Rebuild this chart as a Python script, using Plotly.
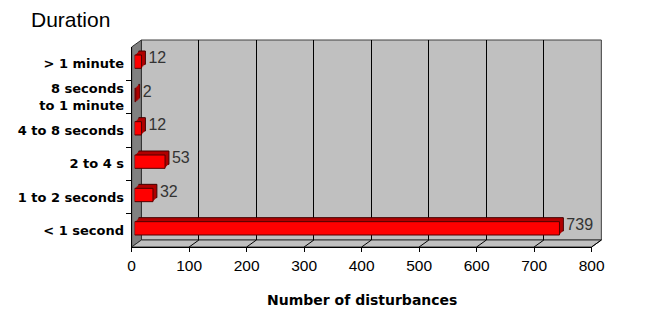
import plotly.graph_objects as go

# ---- data ----
categories = ["> 1 minute", "8 seconds<br>to 1 minute", "4 to 8 seconds",
              "2 to 4 s", "1 to 2 seconds", "< 1 second"]
tick_text = ["&gt; 1 minute", "8 seconds<br>to 1 minute", "4 to 8 seconds",
             "2 to 4 s", "1 to 2 seconds", "&lt; 1 second"]
counts = [12, 2, 12, 53, 32, 739]
x_ticks = [0, 100, 200, 300, 400, 500, 600, 700, 800]
title_text = "Duration"
x_title = "Number of disturbances"

# ---- geometry (pixels) ----
W, H = 666, 326
FX0, FX1 = 131, 603      # front plane x extent
FYT, FYB = 47, 247       # front plane y extent (top, bottom)
DX, DY = 10, -7          # depth offset of back wall
XMAX = 800

def px(x):
    return x / W

def py(y):
    return 1 - y / H

cat_order = list(reversed(categories))  # bottom to top

fig = go.Figure()

def add_axes(n, ox, oy, **xkw):
    xa = dict(domain=[px(FX0 + ox), px(FX1 + ox)], range=[0, XMAX],
              anchor=f"y{n}", showgrid=False, zeroline=False,
              showticklabels=False, ticks="", showline=False, fixedrange=True)
    xa.update(xkw)
    ya = dict(domain=[py(FYB + oy), py(FYT + oy)], type="category",
              categoryorder="array", categoryarray=cat_order,
              range=[-0.5, len(categories) - 0.5], anchor=f"x{n}",
              showgrid=False, zeroline=False, showticklabels=False,
              ticks="", showline=False, fixedrange=True)
    fig.update_layout(**{f"xaxis{n}": xa, f"yaxis{n}": ya})

# main (front) axes: ticks and category labels
fig.update_layout(
    xaxis=dict(domain=[px(FX0), px(FX1)], range=[0, XMAX], anchor="y",
               tickvals=x_ticks, ticktext=[str(v) for v in x_ticks],
               showgrid=False, zeroline=False, showline=True,
               linecolor="#000", linewidth=1, ticks="outside", ticklen=4,
               tickcolor="#000",
               tickfont=dict(family="Liberation Sans, Arial", size=15.5, color="#000"),
               fixedrange=True),
    yaxis=dict(domain=[py(FYB), py(FYT)], type="category",
               categoryorder="array", categoryarray=cat_order,
               tickvals=categories, ticktext=tick_text,
               range=[-0.5, len(categories) - 0.5], anchor="x",
               showgrid=False, zeroline=False, showline=True,
               linecolor="#000", linewidth=1, ticks="outside", ticklen=5,
               tickcolor="#000", tickson="boundaries", ticklabelstandoff=4,
               tickfont=dict(family="DejaVu Sans", size=13, color="#000",
                             weight="bold"),
               fixedrange=True),
)
fig.add_trace(go.Scatter(x=counts, y=categories, mode="markers",
                         marker=dict(opacity=0), hoverinfo="skip",
                         showlegend=False, xaxis="x", yaxis="y"))

# back wall grid axes
add_axes(2, DX, DY, showgrid=True, gridcolor="#000", gridwidth=1, dtick=100)
fig.add_trace(go.Scatter(x=counts, y=categories, mode="markers",
                         marker=dict(opacity=0), hoverinfo="skip",
                         showlegend=False, xaxis="x2", yaxis="y2"))

# bar extrusion copies (back to front)
offsets = [(7, -6), (6, -5), (5, -4), (4, -3)]
n = 3
for i, (ox, oy) in enumerate(offsets):
    add_axes(n, ox, oy)
    last = i == 0
    fig.add_trace(go.Bar(
        x=counts, y=categories, orientation="h", width=0.4,
        marker=dict(color="#b00000",
                    line=dict(color="#400000", width=1 if last else 0)),
        text=[str(v) for v in counts] if last else None,
        textposition="outside" if last else "none",
        constraintext="none",
        textfont=dict(family="Liberation Sans, Arial", size=16, color="#333"),
        cliponaxis=False, hoverinfo="skip", showlegend=False,
        xaxis=f"x{n}", yaxis=f"y{n}"))
    n += 1

# front face of bars
add_axes(n, 3, -2)
fig.add_trace(go.Bar(
    x=counts, y=categories, orientation="h", width=0.4,
    marker=dict(color="#ff0000", line=dict(color="#500000", width=1)),
    hoverinfo="skip", showlegend=False, cliponaxis=False,
    xaxis=f"x{n}", yaxis=f"y{n}"))

# ---- 3D walls (decoration) ----
def path(points):
    s = "M " + " L ".join(f"{px(x):.5f},{py(y):.5f}" for x, y in points) + " Z"
    return s

shapes = []
# back wall
shapes.append(dict(type="rect", xref="paper", yref="paper", layer="below",
                   x0=px(FX0 + DX), x1=px(FX1 + DX), y0=py(FYB + DY), y1=py(FYT + DY),
                   fillcolor="#c0c0c0", line=dict(color="#404040", width=1)))
# side wall
shapes.append(dict(type="path", xref="paper", yref="paper", layer="below",
                   path=path([(FX0, FYT), (FX0 + DX, FYT + DY),
                              (FX0 + DX, FYB + DY), (FX0, FYB)]),
                   fillcolor="#808080", line=dict(color="#303030", width=1)))
# floor
shapes.append(dict(type="path", xref="paper", yref="paper", layer="below",
                   path=path([(FX0, FYB), (FX0 + DX, FYB + DY),
                              (FX1 + DX, FYB + DY), (FX1, FYB)]),
                   fillcolor="#c0c0c0", line=dict(color="#303030", width=1)))
# floor grid lines
scale = (FX1 - FX0) / XMAX
for v in x_ticks[1:]:
    xf = FX0 + v * scale
    shapes.append(dict(type="line", xref="paper", yref="paper", layer="below",
                       x0=px(xf), y0=py(FYB), x1=px(xf + DX), y1=py(FYB + DY),
                       line=dict(color="#000", width=1)))

fig.update_layout(
    width=W, height=H, margin=dict(l=0, r=0, t=0, b=0),
    paper_bgcolor="#fff", plot_bgcolor="rgba(0,0,0,0)",
    showlegend=False, bargap=0.6, shapes=shapes,
    annotations=[
        dict(text=title_text, xref="paper", yref="paper", x=px(26), y=py(19),
             xanchor="left", yanchor="middle", showarrow=False,
             font=dict(family="Liberation Sans, Arial", size=21, color="#000")),
        dict(text=x_title, xref="paper", yref="paper", x=px(367), y=py(300),
             xanchor="center", yanchor="middle", showarrow=False,
             font=dict(family="DejaVu Sans", size=14, color="#000", weight="bold")),
    ],
)

fig.write_html("out.html")
